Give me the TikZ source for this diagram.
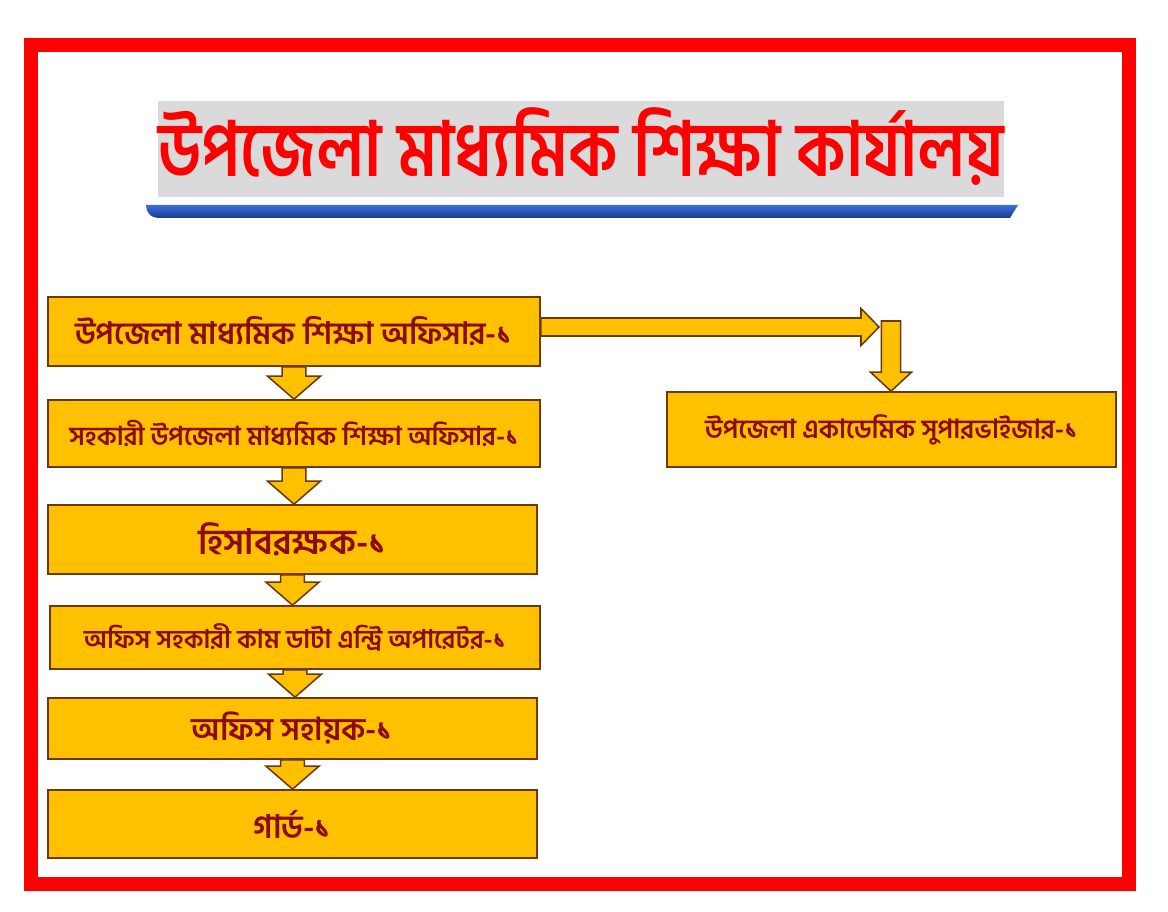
\documentclass[tikz,border=0pt]{standalone}
\usepackage{fontspec}
\usepackage{tikz}
\usetikzlibrary{calc}
\newfontfamily\bn[Script=Bengali]{Hind Siliguri}

\definecolor{boxgold}{HTML}{FFC000}
\definecolor{boxline}{HTML}{6B3A00}
\definecolor{boxtext}{HTML}{8B0B0B}
\definecolor{framered}{HTML}{FF0000}
\definecolor{titlegray}{HTML}{DADADA}
\definecolor{bartop}{HTML}{3C6FD6}
\definecolor{barbot}{HTML}{1B3A94}

% block arrow pointing down from the bottom of #1 to the top of #2
\newcommand{\blockdown}[2]{%
    \draw[blockarrow] let \p1=(#1.south), \p2=(#2.north) in
        (\x1-8.5pt,\y1) -- (\x1+8.5pt,\y1) -- (\x1+8.5pt,\y2+16.4pt)
        -- (\x1+18.9pt,\y2+16.4pt) -- (\x1,\y2) -- (\x1-18.9pt,\y2+16.4pt)
        -- (\x1-8.5pt,\y2+16.4pt) -- cycle;}
\newcommand{\bnsize}[1]{\bn\bfseries\fontsize{#1}{1.2\dimexpr#1\relax}\selectfont}

\begin{document}
\begin{tikzpicture}[x=0.025cm, y=-0.025cm,
        post/.style={draw=boxline, line width=1.2pt, fill=boxgold,
            text=boxtext, inner sep=0pt, align=center},
        blockarrow/.style={draw=boxline, line width=1.1pt, fill=boxgold, line join=miter}]
    % page
    \useasboundingbox (0,0) rectangle (1168,912);
    \fill[white] (0,0) rectangle (1168,912);
    % red frame
    \draw[framered, line width=10pt] (31,45) rectangle (1129,884);

    % title
    \fill[titlegray] (158,101) rectangle (1004,197);
    \node[text=framered, font=\bnsize{54pt}] (title) at (581,147)
        {\scalebox{0.85}[1]{উপজেলা মাধ্যমিক শিক্ষা কার্যালয়}};
    \shade[top color=bartop, bottom color=barbot]
        (146,205) -- (1018,205) -- (1010,218) -- (160,218)
        .. controls (150,218) and (146,212) .. (146,205) -- cycle;

    % left column
    \node[post, minimum width=12.3cm, minimum height=1.725cm, font=\bnsize{22pt}]
        (uso) at (294,331.5) {উপজেলা মাধ্যমিক শিক্ষা অফিসার-১};
    \node[post, minimum width=12.3cm, minimum height=1.675cm, font=\bnsize{18.5pt}]
        (auso) at (294,433.5) {সহকারী উপজেলা মাধ্যমিক শিক্ষা অফিসার-১};
    \node[post, minimum width=12.225cm, minimum height=1.725cm, font=\bnsize{25pt}]
        (acct) at (292.5,539.5) {হিসাবরক্ষক-১};
    \node[post, minimum width=12.25cm, minimum height=1.575cm, font=\bnsize{18.3pt}]
        (deo) at (295,637.5) {অফিস সহকারী কাম ডাটা এন্ট্রি অপারেটর-১};
    \node[post, minimum width=12.225cm, minimum height=1.525cm, font=\bnsize{22.5pt}]
        (mlss) at (292.5,728.5) {অফিস সহায়ক-১};
    \node[post, minimum width=12.225cm, minimum height=1.7cm, font=\bnsize{23pt}]
        (guard) at (292.5,824) {গার্ড-১};

    % right column
    \node[post, minimum width=11.225cm, minimum height=1.875cm, font=\bnsize{18.7pt}]
        (sup) at (891.5,429.5) {উপজেলা একাডেমিক সুপারভাইজার-১};

    % arrows down the left column
    \blockdown{uso}{auso}
    \blockdown{auso}{acct}
    \blockdown{acct}{deo}
    \blockdown{deo}{mlss}
    \blockdown{mlss}{guard}

    % arrow across to the supervisor
    \coordinate (tip) at (879,327);
    \coordinate (turn) at (891,321);
    \draw[blockarrow] let \p1=(uso.east), \p2=(tip) in
        (\x1,\y2+6.4pt) -- (\x2-12.8pt,\y2+6.4pt) -- (\x2-12.8pt,\y2+13.2pt)
        -- (\x2,\y2) -- (\x2-12.8pt,\y2-13.2pt) -- (\x2-12.8pt,\y2-6.4pt)
        -- (\x1,\y2-6.4pt) -- cycle;
    \draw[blockarrow] let \p1=(turn), \p2=(sup.north) in
        (\x1-6.8pt,\y1) -- (\x1+6.8pt,\y1) -- (\x1+6.8pt,\y2+13.5pt)
        -- (\x1+14.6pt,\y2+13.5pt) -- (\x1,\y2) -- (\x1-14.6pt,\y2+13.5pt)
        -- (\x1-6.8pt,\y2+13.5pt) -- cycle;
\end{tikzpicture}
\end{document}
